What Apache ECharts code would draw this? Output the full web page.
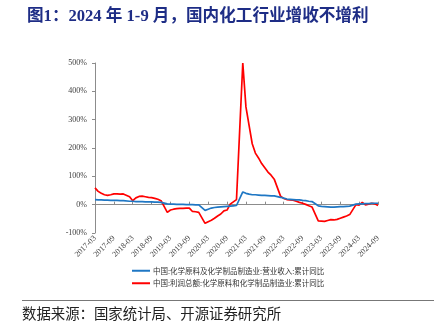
<!DOCTYPE html>
<html>
<head>
<meta charset="utf-8">
<script src="https://cdn.jsdelivr.net/npm/echarts@6/dist/echarts.min.js"></script>
<style>
html,body{margin:0;padding:0;background:#fff;}
#chart{width:442px;height:336px;}
</style>
</head>
<body>
<div id="chart"></div>
<script>
// Month categories 2017-03 .. 2024-09 (monthly)
const categories = [];
for (let y = 2017; y <= 2024; y++) {
  for (let m = 1; m <= 12; m++) {
    if (y === 2017 && m < 3) continue;
    if (y === 2024 && m > 9) continue;
    categories.push(y + '-' + (m < 10 ? '0' + m : '' + m));
  }
}

const titleText = '图1：2024 年 1-9 月，国内化工行业增收不增利';
const sourceText = '数据来源：国家统计局、开源证券研究所';
const revenueName = '中国:化学原料及化学制品制造业:营业收入:累计同比';
const profitName = '中国:利润总额:化学原料和化学制品制造业:累计同比';
const yTicks = [-100, 0, 100, 200, 300, 400, 500];

// Cumulative YoY, % (January not published -> null)
const revenueYoY = [
  18,17,17,16,16,15,15,15,14,14,
  null,
  12,12,11,11,11,10,10,10,9,9,8,
  null,
  3,2,2,1,1,1,0,0,0,-1,-1,
  null,
  -20,-16,-12,-10,-9,-8,-7,-6,-5,-4,-3,
  null,
  45,40,37,35,35,34,33,33,32,31,31,
  null,
  26,23,20,19,18,17,17,15,14,12,11,
  null,
  -4,-6,-7,-8,-9,-9,-8,-7,-7,-6,-5,
  null,
  2,3,3,4,4,5,5,5
];

const profitYoY = [
  59,47,40,35,33,35,38,38,37,38,
  null,
  28,14,24,29,30,28,26,25,22,19,14,
  null,
  -27,-19,-16,-14,-13,-13,-12,-12,-24,-25,-27,
  null,
  -66,-60,-55,-48,-40,-33,-22,-19,2,10,18,
  null,
  500,345,280,215,182,165,145,130,115,104,90,
  null,
  30,22,18,17,16,12,8,5,1,-4,-8,
  null,
  -57,-58,-59,-56,-53,-54,-52,-48,-44,-40,-35,
  null,
  0,-2,8,-1,2,5,3,-3
];

const chart = echarts.init(document.getElementById('chart'), null, {renderer: 'canvas'});
const serif = '"Liberation Serif", "Times New Roman", serif';
const cjk = '"Noto Sans CJK SC", sans-serif';

chart.setOption({
  animation: false,
  backgroundColor: '#fff',
  title: {
    text: titleText,
    left: 22,
    top: 3,
    textStyle: {
      fontFamily: '"Liberation Serif", "Noto Sans CJK SC", serif',
      fontWeight: 'bold',
      fontSize: 16.6,
      color: '#1e2d86'
    }
  },
  legend: {
    orient: 'vertical',
    left: 127,
    top: 262,
    itemWidth: 18,
    itemHeight: 2,
    itemGap: 5,
    icon: 'rect',
    textStyle: {fontFamily: cjk, fontSize: 7.5, color: '#333', padding: [0, 0, 0, -2]},
    data: [revenueName, profitName]
  },
  grid: {left: 95, right: 64, top: 63, bottom: 103, containLabel: false},
  xAxis: [
    {
      type: 'category',
      data: categories,
      boundaryGap: false,
      position: 'bottom',
      axisLine: {show: false, onZero: false},
      axisTick: {show: false},
      axisLabel: {
        interval: 5,
        rotate: 45,
        margin: 4,
        fontFamily: serif,
        fontSize: 8,
        color: '#404040'
      },
      splitLine: {show: false}
    },
    {
      type: 'category',
      data: categories,
      boundaryGap: false,
      position: 'bottom',
      axisLine: {show: true, onZero: true, lineStyle: {color: '#8c8c8c', width: 1}},
      axisTick: {show: true, inside: true, interval: 5, length: 3, lineStyle: {color: '#8c8c8c'}},
      axisLabel: {show: false},
      splitLine: {show: false}
    }
  ],
  yAxis: {
    type: 'value',
    min: yTicks[0],
    max: yTicks[yTicks.length - 1],
    interval: 100,
    axisLine: {show: true, lineStyle: {color: '#8c8c8c', width: 1}},
    axisTick: {show: true, length: 3, lineStyle: {color: '#8c8c8c'}},
    axisLabel: {
      formatter: '{value}%',
      margin: 8,
      fontFamily: serif,
      fontSize: 8,
      color: '#404040'
    },
    splitLine: {show: false}
  },
  series: [
    {
      name: revenueName,
      type: 'line',
      xAxisIndex: 0,
      data: revenueYoY,
      connectNulls: true,
      symbol: 'none',
      lineStyle: {color: '#1f77c4', width: 1.7},
      itemStyle: {color: '#1f77c4'},
      z: 3
    },
    {
      name: profitName,
      type: 'line',
      xAxisIndex: 0,
      data: profitYoY,
      connectNulls: true,
      symbol: 'none',
      lineStyle: {color: '#ff0000', width: 1.7},
      itemStyle: {color: '#ff0000'},
      z: 2
    }
  ],
  graphic: [
    {
      type: 'line',
      shape: {x1: 22, y1: 300.5, x2: 434, y2: 300.5},
      style: {stroke: '#777', lineWidth: 1.2}
    },
    {
      type: 'text',
      left: 22,
      top: 306,
      style: {
        text: sourceText,
        font: '14.4px "Noto Sans CJK SC", sans-serif',
        fill: '#222'
      }
    }
  ]
});
</script>
</body>
</html>
